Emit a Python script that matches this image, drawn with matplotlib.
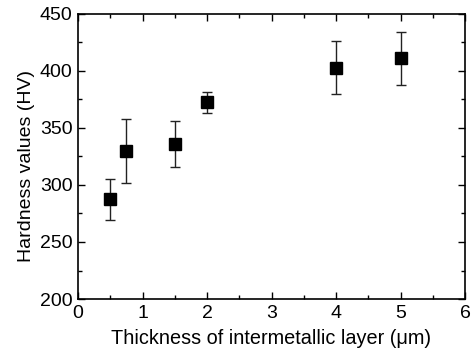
import matplotlib
matplotlib.use("Agg")
from matplotlib import pyplot as plt
from matplotlib.ticker import MultipleLocator

thickness = [0.5, 0.75, 1.5, 2.0, 4.0, 5.0]
hardness = [287.5, 330, 336, 372.5, 403, 411]
hardness_err = [18, 28, 20, 9, 23, 23]

plt.rcParams["font.family"] = ["Liberation Sans", "DejaVu Sans"]

fig = plt.figure(figsize=(4.73, 3.52), dpi=100)
ax = fig.add_axes([78 / 473, 1 - 299 / 352, (465 - 78) / 473, (299 - 14) / 352])

ax.errorbar(thickness, hardness, yerr=hardness_err, fmt="s", color="black",
            ms=9, capsize=3.5, elinewidth=1, capthick=1, ecolor="#222222")

ax.set_xlim(0, 6)
ax.set_ylim(200, 450)
ax.xaxis.set_major_locator(MultipleLocator(1))
ax.xaxis.set_minor_locator(MultipleLocator(0.5))
ax.yaxis.set_major_locator(MultipleLocator(50))
ax.yaxis.set_minor_locator(MultipleLocator(25))
ax.tick_params(which="both", direction="in", top=True, right=True, labelsize=14)
ax.tick_params(which="major", length=5, width=1, pad=4)
ax.tick_params(which="minor", length=3, width=1)
for s in ax.spines.values():
    s.set_linewidth(1.2)

ax.set_xlabel("Thickness of intermetallic layer (\u03bcm)", fontsize=14.3, labelpad=5)
ax.set_ylabel("Hardness values (HV)", fontsize=14)
ax.yaxis.set_label_coords(-0.11, 0.467)

fig.savefig("out.png", dpi=100)
